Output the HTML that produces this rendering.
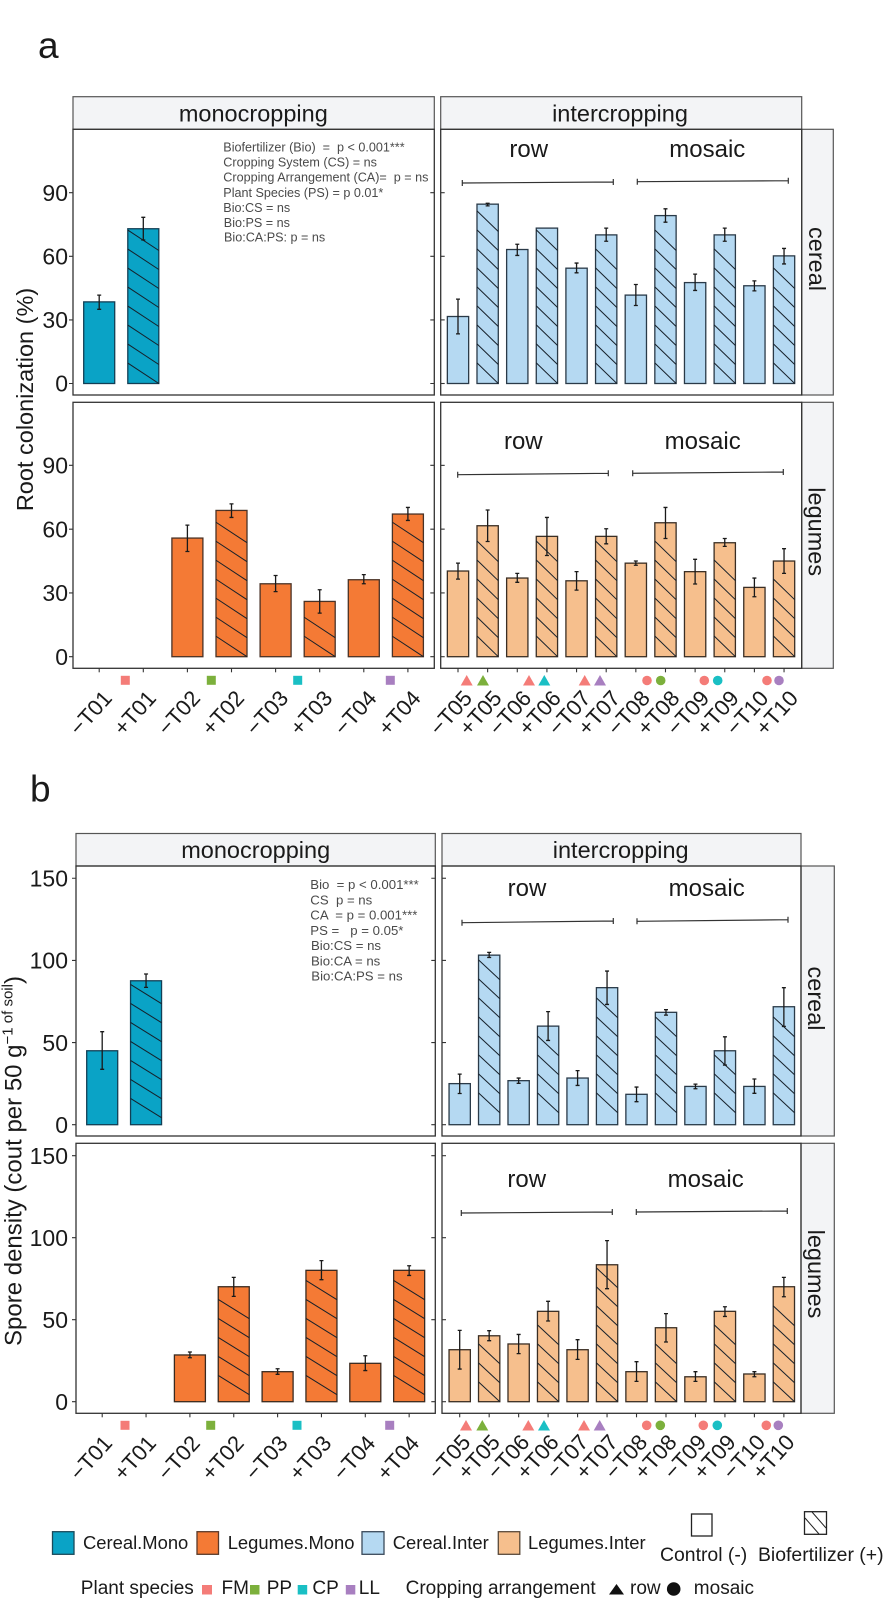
<!DOCTYPE html>
<html>
<head>
<meta charset="utf-8">
<title>Root colonization and spore density</title>
<style>
html,body{margin:0;padding:0;background:#fff;}
svg{display:block;font-family:"Liberation Sans",Arial,sans-serif;}
text{fill:#1a1a1a;}
.stat{fill:#4a4a4a;white-space:pre;}
.statA{font-size:12.6px;}
.statB{font-size:13.2px;}
.strip{fill:#f3f4f6;stroke:#555;stroke-width:1.2;}
.stripT{font-size:23.5px;}
.group{font-size:24px;text-anchor:middle;}
.leg{font-size:18.4px;}
.leg2{font-size:19px;}
</style>
</head>
<body>
<svg id="chart" xmlns="http://www.w3.org/2000/svg" width="886" height="1600" viewBox="0 0 886 1600">
<rect width="886" height="1600" fill="#fff"/>
<text x="38" y="58" font-size="37">a</text>
<text x="30" y="801.5" font-size="37">b</text>

<text transform="translate(33,399.5) rotate(-90)" text-anchor="middle" font-size="23.5">Root colonization (%)</text>
<text transform="translate(21.5,1161) rotate(-90)" text-anchor="middle" font-size="24">Spore density (cout per 50 g<tspan font-size="15" dy="-9">−1 of soil</tspan><tspan dy="9">)</tspan></text>

<!-- strips -->
<rect class="strip" x="73" y="96.7" width="361.3" height="32.6"/>
<rect class="strip" x="440.7" y="96.7" width="361" height="32.6"/>
<rect class="strip" x="801.7" y="129.3" width="31.6" height="265.7"/>
<rect class="strip" x="801.7" y="402.3" width="31.6" height="266"/>
<rect class="strip" x="76" y="833.5" width="359.3" height="32.5"/>
<rect class="strip" x="442" y="833.5" width="359" height="32.5"/>
<rect class="strip" x="801" y="866" width="33.3" height="270"/>
<rect class="strip" x="801" y="1143.3" width="33.3" height="270"/>
<text class="stripT" x="253.3" y="121.5" text-anchor="middle">monocropping</text>
<text class="stripT" x="620" y="121.5" text-anchor="middle">intercropping</text>
<text class="stripT" x="255.7" y="858" text-anchor="middle">monocropping</text>
<text class="stripT" x="620.7" y="858" text-anchor="middle">intercropping</text>
<text class="stripT" transform="translate(809,259) rotate(90)" text-anchor="middle">cereal</text>
<text class="stripT" transform="translate(808.5,531.7) rotate(90)" text-anchor="middle">legumes</text>
<text class="stripT" transform="translate(808,998.5) rotate(90)" text-anchor="middle">cereal</text>
<text class="stripT" transform="translate(808,1274) rotate(90)" text-anchor="middle">legumes</text>

<!-- group labels -->
<text class="group" x="528.7" y="157">row</text>
<text class="group" x="707.3" y="157">mosaic</text>
<text class="group" x="523.3" y="449">row</text>
<text class="group" x="702.7" y="449">mosaic</text>
<text class="group" x="527" y="896">row</text>
<text class="group" x="706.7" y="896">mosaic</text>
<text class="group" x="526.7" y="1187">row</text>
<text class="group" x="705.7" y="1187">mosaic</text>

<!-- group brackets -->
<g stroke="#333" stroke-width="1.2" fill="none">
<path d="M462.3 180v6M462.3 183L613.3 182M613.3 179v6"/>
<path d="M637.3 178.7v6M637.3 181.7L788.3 180.7M788.3 177.7v6"/>
<path d="M457.7 471.7v6M457.7 474.7L608.3 473.3M608.3 470.3v6"/>
<path d="M632.7 470.3v6M632.7 473.3L783.3 472M783.3 469v6"/>
<path d="M462 919.7v6M462 922.7L613.3 921M613.3 918v6"/>
<path d="M637 918.3v6M637 921.3L788 919.7M788 916.7v6"/>
<path d="M461.3 1210v6M461.3 1213L612.3 1212M612.3 1209v6"/>
<path d="M636.3 1209v6M636.3 1212L787.3 1211M787.3 1208v6"/>
</g>

<!-- statistics -->
<g>
<text class="stat statA" x="223.3" y="151.5">Biofertilizer (Bio)  =  p &lt; 0.001***</text>
<text class="stat statA" x="223.3" y="166.7">Cropping System (CS) = ns</text>
<text class="stat statA" x="223.3" y="181.7">Cropping Arrangement (CA)=  p = ns</text>
<text class="stat statA" x="223.3" y="197">Plant Species (PS) = p 0.01*</text>
<text class="stat statA" x="223.3" y="212">Bio:CS = ns</text>
<text class="stat statA" x="223.8" y="227">Bio:PS = ns</text>
<text class="stat statA" x="224" y="241.7">Bio:CA:PS: p = ns</text>
</g>
<g>
<text class="stat statB" x="310.3" y="889">Bio  = p &lt; 0.001***</text>
<text class="stat statB" x="310.3" y="904.7">CS  p = ns</text>
<text class="stat statB" x="310.3" y="919.7">CA  = p = 0.001***</text>
<text class="stat statB" x="310.3" y="935">PS =   p = 0.05*</text>
<text class="stat statB" x="311" y="950">Bio:CS = ns</text>
<text class="stat statB" x="311" y="965.3">Bio:CA = ns</text>
<text class="stat statB" x="311.3" y="980.7">Bio:CA:PS = ns</text>
</g>

<!-- species markers -->
<g>
<rect x="120.8" y="675.8" width="9" height="9" fill="#f47c78"/>
<rect x="206.8" y="675.8" width="9" height="9" fill="#7cb03c"/>
<rect x="293.2" y="675.8" width="9" height="9" fill="#1abfc4"/>
<rect x="385.8" y="675.8" width="9" height="9" fill="#a87fc0"/>
<path fill="#f47c78" d="M466.7 675l6 10.500h-12z"/>
<path fill="#7cb03c" d="M483 675l6 10.500h-12z"/>
<path fill="#f47c78" d="M529 675l6 10.500h-12z"/>
<path fill="#1abfc4" d="M544.300 675l6 10.500h-12z"/>
<path fill="#f47c78" d="M584.700 675l6 10.500h-12z"/>
<path fill="#a87fc0" d="M600 675l6 10.500h-12z"/>
<circle cx="647" cy="680.500" r="4.800" fill="#f47c78"/>
<circle cx="660.700" cy="680.500" r="4.800" fill="#7cb03c"/>
<circle cx="704.300" cy="680.500" r="4.800" fill="#f47c78"/>
<circle cx="717.700" cy="680.500" r="4.800" fill="#1abfc4"/>
<circle cx="767" cy="680.500" r="4.800" fill="#f47c78"/>
<circle cx="779" cy="680.500" r="4.800" fill="#a87fc0"/>
<rect x="120.500" y="1420.800" width="9" height="9" fill="#f47c78"/>
<rect x="206.200" y="1420.800" width="9" height="9" fill="#7cb03c"/>
<rect x="292.500" y="1420.800" width="9" height="9" fill="#1abfc4"/>
<rect x="385.200" y="1420.800" width="9" height="9" fill="#a87fc0"/>
<path fill="#f47c78" d="M466 1420l6 10.500h-12z"/>
<path fill="#7cb03c" d="M482.300 1420l6 10.500h-12z"/>
<path fill="#f47c78" d="M528.300 1420l6 10.500h-12z"/>
<path fill="#1abfc4" d="M544 1420l6 10.500h-12z"/>
<path fill="#f47c78" d="M584 1420l6 10.500h-12z"/>
<path fill="#a87fc0" d="M599.700 1420l6 10.500h-12z"/>
<circle cx="646.700" cy="1425.300" r="4.800" fill="#f47c78"/>
<circle cx="660.300" cy="1425.300" r="4.800" fill="#7cb03c"/>
<circle cx="703.300" cy="1425.300" r="4.800" fill="#f47c78"/>
<circle cx="717.300" cy="1425.300" r="4.800" fill="#1abfc4"/>
<circle cx="766.300" cy="1425.300" r="4.800" fill="#f47c78"/>
<circle cx="778.300" cy="1425.300" r="4.800" fill="#a87fc0"/>
</g>

<!-- legend -->
<g>
<rect x="52.500" y="1531.700" width="21.500" height="22.600" fill="#0aa3c6" stroke="#1a4a5a" stroke-width="1.300"/>
<text class="leg" x="83" y="1549">Cereal.Mono</text>
<rect x="197" y="1531.700" width="21.500" height="22.600" fill="#f47a35" stroke="#5a3a2a" stroke-width="1.300"/>
<text class="leg" x="227.700" y="1549">Legumes.Mono</text>
<rect x="362" y="1531.700" width="22" height="22.600" fill="#b5d9f2" stroke="#3a4a5a" stroke-width="1.300"/>
<text class="leg" x="392.700" y="1549">Cereal.Inter</text>
<rect x="498.300" y="1531.700" width="21.500" height="22.600" fill="#f6bf8d" stroke="#5a4a3a" stroke-width="1.300"/>
<text class="leg" x="528" y="1549">Legumes.Inter</text>
<rect x="691.500" y="1514" width="20.500" height="22" fill="#fff" stroke="#222" stroke-width="1.300"/>
<text x="660" y="1561" font-size="19.4">Control (-)</text>
<rect x="804.500" y="1511.700" width="22" height="22.600" fill="#fff" stroke="#222" stroke-width="1.300"/>
<path d="M805 1518L819 1534M812 1512L826 1528" stroke="#222" stroke-width="1" fill="none"/>
<text x="758" y="1561" font-size="19.4">Biofertilizer (+)</text>
<text class="leg2" x="80.800" y="1594">Plant species</text>
<rect x="202" y="1585" width="10" height="9.500" fill="#f47c78"/>
<text class="leg2" x="221.500" y="1594">FM</text>
<rect x="250" y="1585" width="9.500" height="9.500" fill="#7cb03c"/>
<text class="leg2" x="266.700" y="1594">PP</text>
<rect x="297.700" y="1585" width="9.500" height="9.500" fill="#1abfc4"/>
<text class="leg2" x="312.400" y="1594">CP</text>
<rect x="345.800" y="1585" width="9.500" height="9.500" fill="#a87fc0"/>
<text class="leg2" x="358.800" y="1594">LL</text>
<text class="leg2" x="405.600" y="1594">Cropping arrangement</text>
<path d="M616.500 1584l7.500 10.500h-15z" fill="#111"/>
<text class="leg2" x="630" y="1594">row</text>
<circle cx="673.700" cy="1589" r="6.800" fill="#111"/>
<text class="leg2" x="693.800" y="1594">mosaic</text>
</g>

<g id="marks"></g>
</svg>

<script>
// ---- categories and tick labels ----
var monoCategories = ['−T01','+T01','−T02','+T02','−T03','+T03','−T04','+T04'];
var interCategories = ['−T05','+T05','−T06','+T06','−T07','+T07','−T08','+T08','−T09','+T09','−T10','+T10'];
var rootTicks = [0,30,60,90];
var sporeTicks = [0,50,100,150];

// ---- root colonization: cereal, monocropping ----
var rootCerealMonoMean = [38.5,73,null,null,null,null,null,null];
var rootCerealMonoLow  = [35,67.7,null,null,null,null,null,null];
var rootCerealMonoHigh = [41.7,78.4,null,null,null,null,null,null];
// ---- root colonization: cereal, intercropping ----
var rootCerealInterMean = [31.6,84.6,63.2,73.3,54.4,70.1,41.7,79.2,47.6,70.1,46.1,60.2];
var rootCerealInterLow  = [23.4,83.8,60.4,73.3,52.2,67.1,36.8,76.1,43.9,67.1,43.7,56.4];
var rootCerealInterHigh = [39.8,85,65.7,73.3,56.8,73.3,46.7,82.4,51.6,73.3,48.4,63.7];
// ---- root colonization: legumes, monocropping ----
var rootLegumeMonoMean = [null,null,55.8,68.8,34.3,26,36.2,67.1];
var rootLegumeMonoLow  = [null,null,49.5,65.5,30.6,20.5,34.3,64.1];
var rootLegumeMonoHigh = [null,null,61.9,71.9,38.2,31.5,38.6,70.2];
// ---- root colonization: legumes, intercropping ----
var rootLegumeInterMean = [40.3,61.6,37,56.6,35.7,56.6,44,63,40,53.6,32.6,45];
var rootLegumeInterLow  = [36.5,54.2,35,47.6,31.3,53.1,43,55.6,34.2,51.9,28.2,39.2];
var rootLegumeInterHigh = [44,69,39.2,65.5,40,60.2,45,70.2,45.8,55.6,37,50.8];

// ---- spore density: cereal, monocropping ----
var sporeCerealMonoMean = [45,87.6,null,null,null,null,null,null];
var sporeCerealMonoLow  = [33.7,83.6,null,null,null,null,null,null];
var sporeCerealMonoHigh = [56.6,91.7,null,null,null,null,null,null];
// ---- spore density: cereal, intercropping ----
var sporeCerealInterMean = [25,103.2,26.8,60,28.4,83.4,18.5,68.4,23.3,45,23.3,71.8];
var sporeCerealInterLow  = [19,101.8,25.2,51.3,23.9,73.2,14,66.7,21.9,36.3,19.1,59.8];
var sporeCerealInterHigh = [30.8,104.9,28.4,68.8,32.9,93.5,22.9,70,24.7,53.5,27.8,83.4];
// ---- spore density: legumes, monocropping ----
var sporeLegumeMonoMean = [null,null,28.5,70.1,18.3,80.1,23.4,80.1];
var sporeLegumeMonoLow  = [null,null,26.8,64.2,16.7,74.4,19,77];
var sporeLegumeMonoHigh = [null,null,30.3,75.8,20.1,86,28,82.9];
// ---- spore density: legumes, intercropping ----
var sporeLegumeInterMean = [31.7,40.2,35.2,55.1,31.7,83.5,18.3,45.1,15.2,55.1,16.9,70.1];
var sporeLegumeInterLow  = [19.9,37.2,29.3,49.2,25.8,68.9,12.4,36.4,12.4,52,15.2,64];
var sporeLegumeInterHigh = [43.5,43.3,41,61.2,37.8,98.2,24.4,53.7,18.3,57.9,18.3,75.8];

var NS = 'http://www.w3.org/2000/svg';
var root = document.getElementById('marks');

function make(tag, attrs, parent) {
  var e = document.createElementNS(NS, tag);
  for (var k in attrs) e.setAttribute(k, attrs[k]);
  (parent || root).appendChild(e);
  return e;
}

// axis functions
function xAxis(first, step) { return function (i) { return first + i * step; }; }
function yAxis(zero, perUnit) { return function (v) { return zero - v * perUnit; }; }

function drawPanel(o) {
  var g = make('g', {});
  
  
  var x = o.x, y = o.y;

  // bars, hatching, error bars
  for (var i = 0; i < o.mean.length; i++) {
    if (o.mean[i] === null) continue;
    var cx = x(i), top = y(o.mean[i]), base = y(0), w = o.barW;
    var bar = make('rect', {x: cx - w / 2, y: top, width: w, height: base - top, fill: o.fill, stroke: o.stroke, 'stroke-width': 1.3}, g);
    
    
    if (i % 2 === 1) {
      var yr = base - o.hatchOffset;
      while (yr - w * o.hatchSlope >= top + 1) {
        var hatch = make('line', {x1: cx - w / 2, y1: yr - w * o.hatchSlope, x2: cx + w / 2, y2: yr, stroke: '#16202a', 'stroke-width': 1}, g);
        
        
        yr -= 19;
      }
    }
    if (o.high[i] !== o.low[i]) {
      var err = make('path', {
        d: 'M' + cx + ' ' + y(o.high[i]) + 'V' + y(o.low[i]) +
           'M' + (cx - 2) + ' ' + y(o.high[i]) + 'h4' +
           'M' + (cx - 2) + ' ' + y(o.low[i]) + 'h4',
        stroke: '#1a1a1a', 'stroke-width': 1.3, fill: 'none'}, g);
      
      
    }
  }

  // frame
  var frame = make('rect', {x: o.left, y: o.top, width: o.right - o.left, height: o.bottom - o.top, fill: 'none', stroke: '#333', 'stroke-width': 1.3}, g);
  
  

  // y ticks
  o.ticks.forEach(function (t) {
    var py = y(t);
    var mark = make('path', {d: o.isMono
      ? 'M' + (o.left - 4) + ' ' + py + 'H' + o.left + 'M' + (o.right - 4) + ' ' + py + 'H' + o.right
      : 'M' + o.left + ' ' + py + 'h4', stroke: '#333', 'stroke-width': 1.1}, g);
    
    
    if (o.isMono) {
      var lab = make('text', {x: 68, y: py + 8.2, 'text-anchor': 'end', 'font-size': 23}, g);
      lab.textContent = t;
      
      
    }
  });

  // x ticks and labels
  if (o.showX) {
    o.cats.forEach(function (c, i) {
      var px = x(i);
      var tick = make('line', {x1: px, x2: px, y1: o.bottom, y2: o.bottom + 4, stroke: '#333', 'stroke-width': 1.1}, g);
      
      
      var ex = px + o.labelDx, ey = o.labelY;
      var lab = make('text', {transform: 'translate(' + ex + ',' + ey + ') rotate(-48)', 'text-anchor': 'end', 'font-size': 22}, g);
      lab.textContent = c;
      
      
    });
  }
}

var blue = '#0aa3c6', orange = '#f47a35', lblue = '#b5d9f2', lorange = '#f6bf8d';

// Figure a
drawPanel({name:'root-cereal-mono', isMono:true, cats:monoCategories, x:xAxis(99.2,44.1), y:yAxis(383.5,2.12), ticks:rootTicks,
  mean:rootCerealMonoMean, low:rootCerealMonoLow, high:rootCerealMonoHigh, barW:31, fill:blue, stroke:'#123f55',
  hatchSlope:.66, hatchOffset:0, left:73, right:434.3, top:129.3, bottom:395});
drawPanel({name:'root-cereal-inter', cats:interCategories, x:xAxis(458,29.64), y:yAxis(383.5,2.12), ticks:rootTicks,
  mean:rootCerealInterMean, low:rootCerealInterLow, high:rootCerealInterHigh, barW:21.3, fill:lblue, stroke:'#2a3a48',
  hatchSlope:.97, hatchOffset:0, left:440.7, right:801.7, top:129.3, bottom:395});
drawPanel({name:'root-legumes-mono', isMono:true, showX:true, labelDx:14, labelY:699, cats:monoCategories, x:xAxis(99.2,44.1), y:yAxis(656.7,2.126), ticks:rootTicks,
  mean:rootLegumeMonoMean, low:rootLegumeMonoLow, high:rootLegumeMonoHigh, barW:31, fill:orange, stroke:'#4a3226',
  hatchSlope:.66, hatchOffset:0, left:73, right:434.3, top:402.3, bottom:668.3});
drawPanel({name:'root-legumes-inter', showX:true, labelDx:15.3, labelY:699, cats:interCategories, x:xAxis(458,29.64), y:yAxis(656.7,2.126), ticks:rootTicks,
  mean:rootLegumeInterMean, low:rootLegumeInterLow, high:rootLegumeInterHigh, barW:21.3, fill:lorange, stroke:'#3a2e24',
  hatchSlope:.97, hatchOffset:0, left:440.7, right:801.7, top:402.3, bottom:668.3});

// Figure b
drawPanel({name:'spore-cereal-mono', isMono:true, cats:monoCategories, x:xAxis(102.2,43.85), y:yAxis(1124.7,1.643), ticks:sporeTicks,
  mean:sporeCerealMonoMean, low:sporeCerealMonoLow, high:sporeCerealMonoHigh, barW:31, fill:blue, stroke:'#123f55',
  hatchSlope:.62, hatchOffset:7, left:76, right:435.3, top:866, bottom:1136});
drawPanel({name:'spore-cereal-inter', cats:interCategories, x:xAxis(459.7,29.47), y:yAxis(1124.7,1.643), ticks:sporeTicks,
  mean:sporeCerealInterMean, low:sporeCerealInterLow, high:sporeCerealInterHigh, barW:21.3, fill:lblue, stroke:'#2a3a48',
  hatchSlope:.93, hatchOffset:12, left:442, right:801, top:866, bottom:1136});
drawPanel({name:'spore-legumes-mono', isMono:true, showX:true, labelDx:11.3, labelY:1444, cats:monoCategories, x:xAxis(102.2,43.85), y:yAxis(1401.7,1.64), ticks:sporeTicks,
  mean:sporeLegumeMonoMean, low:sporeLegumeMonoLow, high:sporeLegumeMonoHigh, barW:31, fill:orange, stroke:'#3a2a20',
  hatchSlope:.62, hatchOffset:7, left:76, right:435.3, top:1143.3, bottom:1413.3});
drawPanel({name:'spore-legumes-inter', showX:true, labelDx:12, labelY:1443, cats:interCategories, x:xAxis(459.7,29.47), y:yAxis(1401.7,1.64), ticks:sporeTicks,
  mean:sporeLegumeInterMean, low:sporeLegumeInterLow, high:sporeLegumeInterHigh, barW:21.3, fill:lorange, stroke:'#3a2e24',
  hatchSlope:.93, hatchOffset:0, left:442, right:801, top:1143.3, bottom:1413.3});
</script>
</body>
</html>
